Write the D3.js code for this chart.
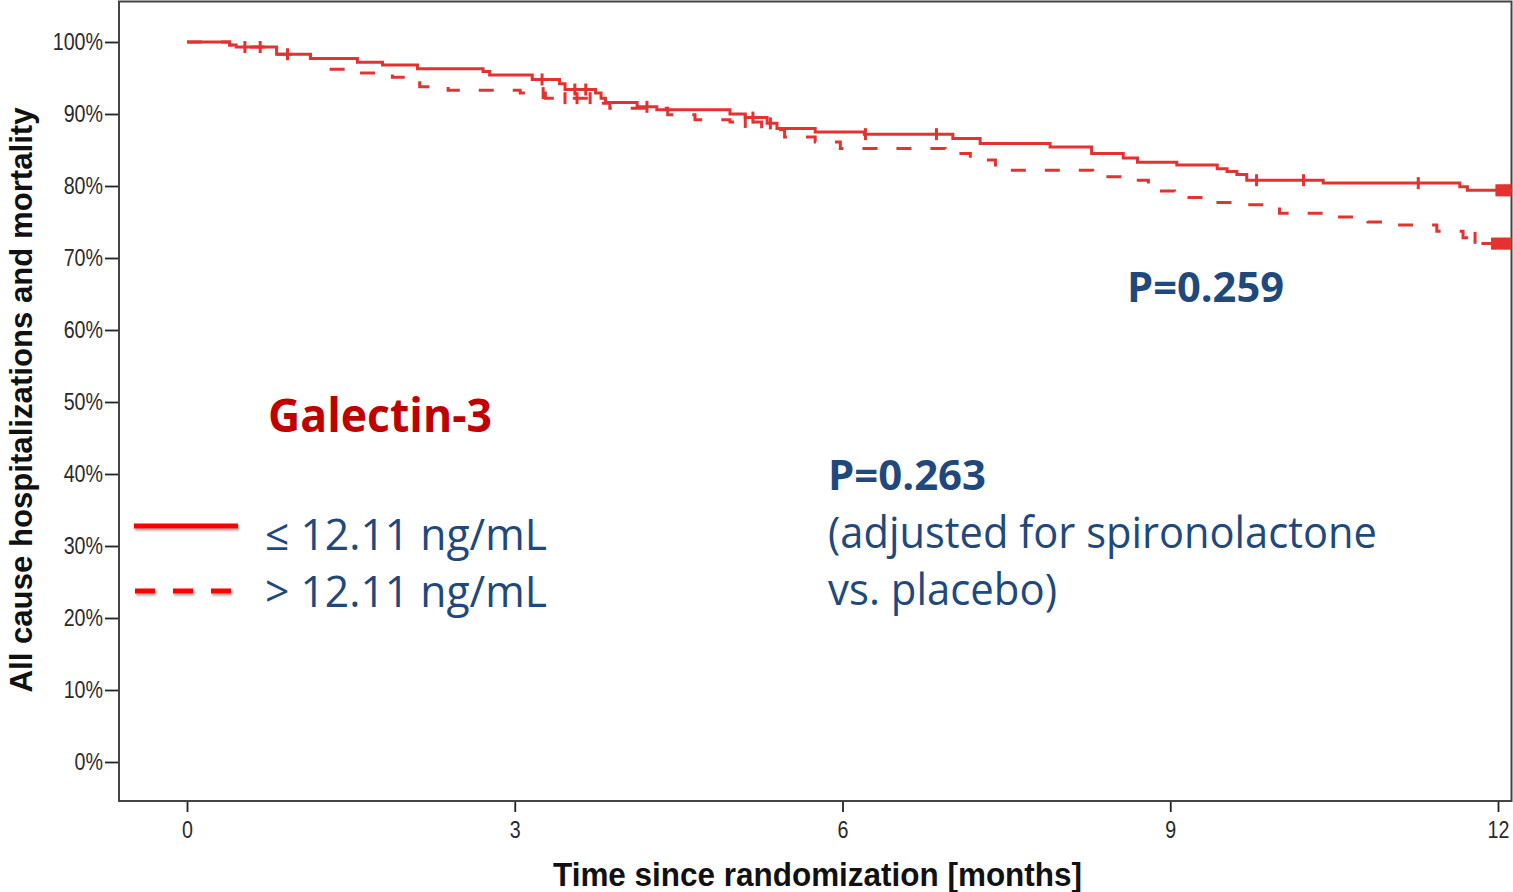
<!DOCTYPE html>
<html>
<head>
<meta charset="utf-8">
<script src="https://cdn.jsdelivr.net/npm/d3@7"></script>
<style>
  html, body { margin: 0; padding: 0; background: #fff; }
  svg { display: block; }
</style>
</head>
<body>
<script>
// Kaplan-Meier curves, event-free survival by galectin-3 level
var lowTimes = [0, 0.39, 0.45, 0.82, 1.13, 1.56, 1.79, 2.11, 2.71, 2.77, 3.16, 3.41, 3.46, 3.74, 3.79, 3.83, 4.12, 4.30, 4.97, 5.11, 5.31, 5.40, 5.75, 6.20, 7.01, 7.26, 7.90, 8.28, 8.57, 8.70, 9.06, 9.43, 9.52, 9.61, 9.70, 10.40, 11.65, 11.72, 12.13];
var lowSurv  = [100, 99.6, 99.3, 98.3, 97.7, 97.2, 96.8, 96.3, 95.9, 95.4, 94.8, 94.2, 93.4, 92.9, 92.2, 91.6, 91.0, 90.6, 90.0, 89.5, 88.7, 88.0, 87.5, 87.2, 86.6, 85.9, 85.4, 84.5, 83.9, 83.3, 82.9, 82.4, 82.0, 81.6, 80.8, 80.4, 79.9, 79.4, 79.4];
var lowCensor = [0.53, 0.67, 0.92, 3.25, 3.55, 3.65, 4.21, 5.18, 5.34, 6.21, 6.86, 9.79, 10.22, 11.27, 11.99, 12.01, 12.03, 12.05, 12.07, 12.09, 12.11];

var highTimes = [0, 0.39, 0.45, 0.82, 1.13, 1.22, 1.58, 1.88, 2.13, 2.39, 3.05, 3.28, 3.78, 3.87, 4.40, 4.65, 4.97, 5.26, 5.47, 5.75, 5.98, 6.94, 7.17, 7.40, 8.29, 8.56, 8.80, 9.04, 9.32, 9.59, 10.00, 10.44, 10.81, 11.01, 11.44, 11.68, 11.84, 12.13];
var highSurv  = [100, 99.6, 99.3, 98.3, 97.7, 96.2, 95.7, 95.1, 93.8, 93.3, 92.9, 92.2, 91.5, 90.8, 89.9, 89.2, 88.9, 87.8, 86.8, 86.1, 85.2, 84.5, 83.6, 82.2, 81.3, 80.8, 79.3, 78.4, 77.7, 77.4, 76.2, 75.7, 75.0, 74.6, 73.7, 72.8, 72.0, 72.0];
var highCensor = [3.26, 3.46, 3.57, 3.69, 5.11, 11.79, 11.95, 11.97, 11.99, 12.01, 12.03, 12.05, 12.07, 12.09, 12.11];

var xTicks = [0, 3, 6, 9, 12];
var yTicks = [0, 10, 20, 30, 40, 50, 60, 70, 80, 90, 100];

var legendLabels = ["\u2264 12.11 ng/mL", "> 12.11 ng/mL"];

/***** Configuration *****/
var width = 1513, height = 892;
var frame = { left: 119, top: 1.5, right: 1511.5, bottom: 801 };
var curveColor = "#e3322f";
var blue = "#1f497d";
var narrow = 0.82;   // horizontal squeeze for the tick labels

var xScale = d3.scaleLinear().domain([0, 12]).range([187, 1498]);
var yScale = d3.scaleLinear().domain([0, 100]).range([762, 42]);

var svg = d3.select("body").append("svg")
    .attr("width", width)
    .attr("height", height);

var defs = svg.append("defs");
var shadow = defs.append("filter").attr("id", "shadow")
    .attr("x", "-10%").attr("y", "-100%").attr("width", "120%").attr("height", "300%");
shadow.append("feDropShadow")
    .attr("dx", 1).attr("dy", 2).attr("stdDeviation", 1.2)
    .attr("flood-color", "#555").attr("flood-opacity", 0.55);

/***** Axes *****/
var yAxis = d3.axisLeft(yScale).tickValues(yTicks).tickFormat(function (d) { return d + "%"; })
    .tickSize(14).tickPadding(3);
var xAxis = d3.axisBottom(xScale).tickValues(xTicks).tickSize(11).tickPadding(9);

var gy = svg.append("g").attr("transform", "translate(" + frame.left + ",0)").call(yAxis);
var gx = svg.append("g").attr("transform", "translate(0," + frame.bottom + ")").call(xAxis);

[gx, gy].forEach(function (g) {
  g.select(".domain").remove();
  g.selectAll(".tick line").attr("stroke", "#222").attr("stroke-width", 1.8);
  g.selectAll(".tick text")
      .attr("fill", "#2a2a2a")
      .attr("transform", "scale(" + narrow + ",1)")
      .style("font-family", "'Liberation Sans', Arial, sans-serif")
      .style("font-size", "24px");
});
gy.selectAll(".tick text").attr("x", -16 / narrow);

// plot frame
svg.append("rect")
    .attr("x", frame.left).attr("y", frame.top)
    .attr("width", frame.right - frame.left).attr("height", frame.bottom - frame.top)
    .attr("fill", "none").attr("stroke", "#444").attr("stroke-width", 2);

/***** Curves *****/
function toPoints(times, surv) {
  return times.map(function (t, i) { return { t: t, s: surv[i] }; });
}
function survAt(times, surv, t) {
  return surv[Math.max(0, d3.bisectRight(times, t) - 1)];
}

var line = d3.line()
    .x(function (d) { return xScale(d.t); })
    .y(function (d) { return yScale(d.s); })
    .curve(d3.curveStepAfter);

var curves = svg.append("g");

curves.append("path")
    .datum(toPoints(highTimes, highSurv))
    .attr("d", line)
    .attr("fill", "none")
    .attr("stroke", curveColor)
    .attr("stroke-width", 3)
    .attr("stroke-dasharray", "15,19");

curves.append("path")
    .datum(toPoints(lowTimes, lowSurv))
    .attr("d", line)
    .attr("fill", "none")
    .attr("stroke", curveColor)
    .attr("stroke-width", 3);

// censoring marks
function drawCensor(ticks, times, surv) {
  curves.selectAll(null)
      .data(ticks)
      .enter().append("line")
      .attr("x1", function (d) { return xScale(d); })
      .attr("x2", function (d) { return xScale(d); })
      .attr("y1", function (d) { return yScale(survAt(times, surv, d)) - 6; })
      .attr("y2", function (d) { return yScale(survAt(times, surv, d)) + 6; })
      .attr("stroke", curveColor)
      .attr("stroke-width", 3);
}
drawCensor(lowCensor, lowTimes, lowSurv);
drawCensor(highCensor, highTimes, highSurv);

/***** Axis titles *****/
svg.append("text")
    .attr("transform", "translate(32,400) rotate(-90)")
    .attr("text-anchor", "middle")
    .attr("textLength", 585).attr("lengthAdjust", "spacingAndGlyphs")
    .style("font-family", "'Liberation Sans', Arial, sans-serif")
    .style("font-weight", "bold").style("font-size", "31px")
    .attr("fill", "#111")
    .text("All cause hospitalizations and mortality");

svg.append("text")
    .attr("x", 553).attr("y", 886)
    .attr("textLength", 529).attr("lengthAdjust", "spacingAndGlyphs")
    .style("font-family", "'Liberation Sans', Arial, sans-serif")
    .style("font-weight", "bold").style("font-size", "33px")
    .attr("fill", "#111")
    .text("Time since randomization [months]");

/***** Legend *****/
var legend = svg.append("g").attr("filter", "url(#shadow)");
legend.append("line")
    .attr("x1", 134).attr("x2", 238).attr("y1", 526).attr("y2", 526)
    .attr("stroke", "#ff0000").attr("stroke-width", 5);
legend.append("line")
    .attr("x1", 135).attr("x2", 232).attr("y1", 591).attr("y2", 591)
    .attr("stroke", "#ff0000").attr("stroke-width", 5)
    .attr("stroke-dasharray", "20,18");

var calibri = "'Open Sans', 'Noto Sans', sans-serif";

function label(x, y, txt, len, size, weight, color) {
  svg.append("text")
      .attr("x", x).attr("y", y)
      .attr("textLength", len).attr("lengthAdjust", "spacingAndGlyphs")
      .style("font-family", calibri)
      .style("font-size", size + "px")
      .style("font-weight", weight)
      .attr("fill", color)
      .text(txt);
}

label(268, 432, "Galectin-3", 224, 47, "bold", "#c00000");
label(265, 550, legendLabels[0], 282, 43, "normal", blue);
label(265, 607, legendLabels[1], 282, 43, "normal", blue);

label(1127, 302, "P=0.259", 157, 42, "bold", blue);
label(828, 490, "P=0.263", 158, 42, "bold", blue);
label(828, 548, "(adjusted for spironolactone", 549, 43, "normal", blue);
label(828, 605, "vs. placebo)", 229, 43, "normal", blue);
</script>
</body>
</html>
